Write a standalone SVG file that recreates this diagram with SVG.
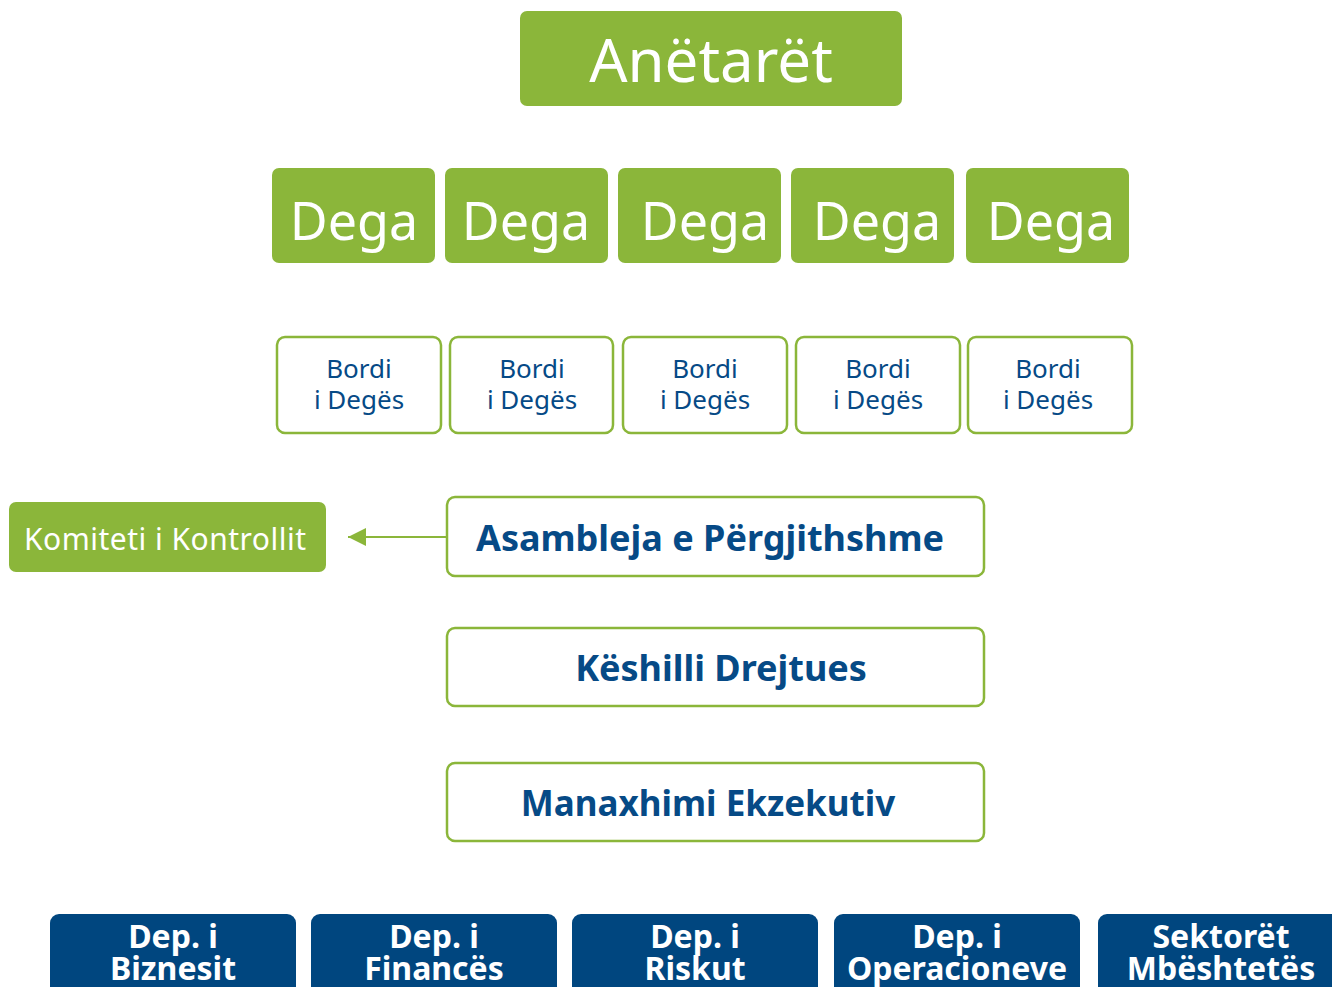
<svg xmlns="http://www.w3.org/2000/svg" width="1332" height="987" viewBox="0 0 1332 987">
<defs>
<style>
.g{fill:#8bb63a}
.o{fill:#fff;stroke:#8bb63a;stroke-width:2.5}
.b{fill:#00467f}
.t{font-family:"Noto Sans","Open Sans",sans-serif;text-anchor:middle}
.w{fill:#fff}
.bl{fill:#064a86}
</style>
<marker id="ah" markerWidth="20" markerHeight="20" refX="18" refY="9" orient="auto" markerUnits="userSpaceOnUse">
<path d="M0,0 L18,9 L0,18 z" fill="#8bb63a"/>
</marker>
</defs>
<rect width="1332" height="987" fill="#fff"/>
<g id="anetaret"><rect class="g" x="520" y="11" width="382" height="95" rx="7"/><text class="t w" x="711" y="82" font-size="60">Anëtarët</text></g>
<g id="dega1"><rect class="g" x="272" y="168" width="163" height="95" rx="7"/><text class="t w" x="354" y="240" font-size="52">Dega</text></g>
<g id="dega2"><rect class="g" x="445" y="168" width="163" height="95" rx="7"/><text class="t w" x="526" y="240" font-size="52">Dega</text></g>
<g id="dega3"><rect class="g" x="618" y="168" width="163" height="95" rx="7"/><text class="t w" x="705" y="240" font-size="52">Dega</text></g>
<g id="dega4"><rect class="g" x="791" y="168" width="163" height="95" rx="7"/><text class="t w" x="877" y="240" font-size="52">Dega</text></g>
<g id="dega5"><rect class="g" x="966" y="168" width="163" height="95" rx="7"/><text class="t w" x="1051" y="240" font-size="52">Dega</text></g>
<g id="bordi1"><rect class="o" x="277" y="337" width="164" height="96" rx="8"/><text class="t bl" font-size="26"><tspan x="359" y="378">Bordi</tspan><tspan x="359" y="409">i Degës</tspan></text></g>
<g id="bordi2"><rect class="o" x="450" y="337" width="163" height="96" rx="8"/><text class="t bl" font-size="26"><tspan x="532" y="378">Bordi</tspan><tspan x="532" y="409">i Degës</tspan></text></g>
<g id="bordi3"><rect class="o" x="623" y="337" width="164" height="96" rx="8"/><text class="t bl" font-size="26"><tspan x="705" y="378">Bordi</tspan><tspan x="705" y="409">i Degës</tspan></text></g>
<g id="bordi4"><rect class="o" x="796" y="337" width="164" height="96" rx="8"/><text class="t bl" font-size="26"><tspan x="878" y="378">Bordi</tspan><tspan x="878" y="409">i Degës</tspan></text></g>
<g id="bordi5"><rect class="o" x="968" y="337" width="164" height="96" rx="8"/><text class="t bl" font-size="26"><tspan x="1048" y="378">Bordi</tspan><tspan x="1048" y="409">i Degës</tspan></text></g>
<g id="komiteti"><rect class="g" x="9" y="502" width="317" height="70" rx="7"/><text class="t w" x="165" y="550" font-size="30" textLength="282" lengthAdjust="spacing">Komiteti i Kontrollit</text></g>
<g id="connectors"><line x1="447" y1="537" x2="348" y2="537" stroke="#8bb63a" stroke-width="2" marker-end="url(#ah)"/></g>
<g id="asambleja"><rect class="o" x="447" y="497" width="537" height="79" rx="8"/><text class="t bl" x="710" y="551" font-size="36" font-weight="bold">Asambleja e Përgjithshme</text></g>
<g id="keshilli"><rect class="o" x="447" y="628" width="537" height="78" rx="8"/><text class="t bl" x="721" y="681" font-size="36" font-weight="bold">Këshilli Drejtues</text></g>
<g id="manaxhimi"><rect class="o" x="447" y="763" width="537" height="78" rx="8"/><text class="t bl" x="708" y="816" font-size="35" font-weight="bold">Manaxhimi Ekzekutiv</text></g>
<g id="dep1"><rect class="b" x="50" y="914" width="246" height="90" rx="9"/><text class="t w" font-size="32" font-weight="bold"><tspan x="173" y="948">Dep. i</tspan><tspan x="173" y="980">Biznesit</tspan></text></g>
<g id="dep2"><rect class="b" x="311" y="914" width="246" height="90" rx="9"/><text class="t w" font-size="32" font-weight="bold"><tspan x="434" y="948">Dep. i</tspan><tspan x="434" y="980">Financës</tspan></text></g>
<g id="dep3"><rect class="b" x="572" y="914" width="246" height="90" rx="9"/><text class="t w" font-size="32" font-weight="bold"><tspan x="695" y="948">Dep. i</tspan><tspan x="695" y="980">Riskut</tspan></text></g>
<g id="dep4"><rect class="b" x="834" y="914" width="246" height="90" rx="9"/><text class="t w" font-size="32" font-weight="bold"><tspan x="957" y="948">Dep. i</tspan><tspan x="957" y="980">Operacioneve</tspan></text></g>
<g id="sektoret"><rect class="b" x="1098" y="914" width="246" height="90" rx="9"/><text class="t w" font-size="32" font-weight="bold"><tspan x="1221" y="948">Sektorët</tspan><tspan x="1221" y="980">Mbështetës</tspan></text></g>
</svg>
